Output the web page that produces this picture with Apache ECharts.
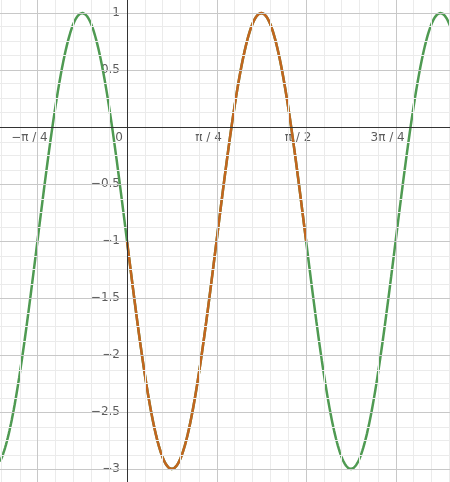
<!DOCTYPE html>
<html>
<head>
<meta charset="UTF-8">
<script src="https://cdn.jsdelivr.net/npm/echarts@6/dist/echarts.min.js"></script>
<style>html,body{margin:0;padding:0;background:#fff}#c{width:450px;height:482px}</style>
</head>
<body>
<div id="c"></div>
<script>
// f(x) = offset + amp * sin(freq * x)
var amp = -2, freq = 4, offset = -1;
var xRange = [-1.114, 2.833];
var yRange = [-3.114, 1.114];
var orangeRange = [0, Math.PI / 2];
var xTickVals = [-Math.PI / 4, Math.PI / 4, Math.PI / 2, 3 * Math.PI / 4];
var xTickLabels = ['\u2212\u03c0 / 4', '\u03c0 / 4', '\u03c0 / 2', '3\u03c0 / 4'];
var yTickVals = [1, 0.5, -0.5, -1, -1.5, -2, -2.5, -3];
var yTickLabels = ['1', '0.5', '\u22120.5', '\u22121', '\u22121.5', '\u22122', '\u22122.5', '\u22123'];

function sample(a, b) {
  var out = [];
  var n = Math.ceil((b - a) / 0.004);
  for (var i = 0; i <= n; i++) {
    var x = a + (b - a) * i / n;
    out.push([x, offset + amp * Math.sin(freq * x)]);
  }
  return out;
}

var minorX = [], majorX = [], minorY = [], majorY = [];
for (var i = -30; i <= 80; i++) {
  var x = i * Math.PI / 20;
  if (x < xRange[0] || x > xRange[1]) continue;
  (i % 5 === 0 ? majorX : minorX).push({ xAxis: x });
}
for (var j = -30; j <= 10; j++) {
  var y = j * 0.125;
  if (y < yRange[0] || y > yRange[1]) continue;
  (j % 4 === 0 ? majorY : minorY).push({ yAxis: y });
}

function lines(data, color) {
  return { silent: true, symbol: 'none', label: { show: false },
    lineStyle: { color: color, width: 1, type: 'solid' }, data: data, animation: false };
}

var chart = echarts.init(document.getElementById('c'));
chart.setOption({
  animation: false,
  grid: { left: 0, right: 0, top: 0, bottom: 0 },
  xAxis: { type: 'value', min: xRange[0], max: xRange[1], show: false },
  yAxis: { type: 'value', min: yRange[0], max: yRange[1], show: false },
  series: [
    { type: 'line', data: [], markLine: lines(minorX.concat(minorY), '#ebebeb') },
    { type: 'line', data: [], markLine: lines(majorX.concat(majorY), '#c8c8c8') },
    { type: 'line', data: [], markLine: lines([{ xAxis: 0 }, { yAxis: 0 }], '#333') },
    { type: 'line', data: sample(xRange[0], xRange[1]), showSymbol: false, symbol: 'none',
      lineStyle: { color: '#4f9a52', width: 2.5 } },
    { type: 'line', data: sample(orangeRange[0], orangeRange[1]), showSymbol: false, symbol: 'none',
      lineStyle: { color: '#c2651e', width: 2.5 } },
    { type: 'scatter', symbolSize: 0, silent: true,
      data: xTickVals.map(function (v, k) { return { value: [v, 0], name: xTickLabels[k] }; })
        .concat([{ value: [0, 0], name: '0' }]),
      label: { show: true, formatter: '{b}', position: 'bottom', distance: 4,
        offset: [-8, 0], color: '#333', fontSize: 12, fontFamily: 'DejaVu Sans',
        backgroundColor: '#fff', padding: [1, 2] } },
    { type: 'scatter', symbolSize: 0, silent: true,
      data: yTickVals.map(function (v, k) { return { value: [0, v], name: yTickLabels[k] }; }),
      label: { show: true, formatter: '{b}', position: 'left', distance: 6,
        color: '#333', fontSize: 12, fontFamily: 'DejaVu Sans',
        backgroundColor: '#fff', padding: [1, 1] } }
  ]
});
</script>
</body>
</html>
